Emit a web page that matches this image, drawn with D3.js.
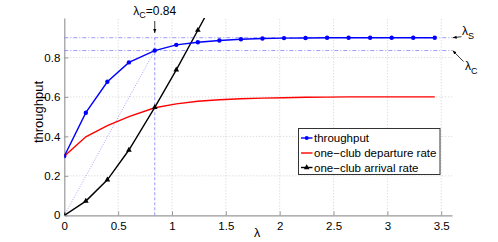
<!DOCTYPE html>
<html><head><meta charset="utf-8">
<script src="https://cdn.jsdelivr.net/npm/d3@7"></script>
<style>
body{margin:0;background:#fff;}
svg{display:block;font-family:"Liberation Sans",Arial,sans-serif;}
</style></head>
<body><svg id="c" width="498" height="242"></svg>
<script>
const lambdaVals = [0,0.2,0.4,0.6,0.84,1.04,1.24,1.44,1.64,1.84,2.04,2.24,2.44,2.64,2.84,3.04,3.24,3.44];
const throughput = [0.3,0.52,0.677,0.775,0.835,0.864,0.877,0.886,0.892,0.896,0.898,0.899,0.9,0.9,0.9,0.9,0.9,0.9];
const departure = [0.3,0.398,0.455,0.5,0.545,0.565,0.578,0.586,0.591,0.594,0.596,0.598,0.599,0.6,0.6,0.6,0.6,0.6];
const arrivalX = [0,0.2,0.4,0.6,0.84,1.04,1.24,1.44];
const arrival = [0,0.072,0.18,0.331,0.547,0.737,0.938,1.14];
const xTicks = [0,0.5,1,1.5,2,2.5,3,3.5];
const yTicks = [0,0.2,0.4,0.6,0.8];
const lambdaC = 0.84, thrC = 0.835, lambdaS = 0.9;
const seriesNames = ["throughput","one\u2212club departure rate","one\u2212club arrival rate"];
const seriesColors = ["#0000ff","#ff0000","#000000"];

const svg = d3.select("#c");
const L=64.3,R=452,T=18,B=215.3;
const x = d3.scaleLinear().domain([0,3.6]).range([L,R]);
const y = d3.scaleLinear().domain([0,1]).range([B,T]);

const defs = svg.append("defs");
defs.append("clipPath").attr("id","clip")
  .append("rect").attr("x",L).attr("y",T).attr("width",R-L).attr("height",B-T);
defs.append("marker").attr("id","ah").attr("viewBox","0 0 10 10").attr("refX",10).attr("refY",5)
  .attr("markerWidth",5).attr("markerHeight",5).attr("orient","auto-start-reverse")
  .append("path").attr("d","M0,1 L10,5 L0,9 z").attr("fill","#000");

// grid
const grid = svg.append("g").attr("stroke","#d0d0d0").attr("stroke-dasharray","1,2").attr("stroke-width",1);
xTicks.filter(d=>d>0).forEach(d=>grid.append("line").attr("x1",x(d)).attr("x2",x(d)).attr("y1",y(0)).attr("y2",y(1)));
yTicks.filter(d=>d>0).forEach(d=>grid.append("line").attr("x1",x(0)).attr("x2",x(3.6)).attr("y1",y(d)).attr("y2",y(d)));

// axes
const xa = svg.append("g").attr("transform",`translate(0,${B})`)
  .call(d3.axisBottom(x).tickValues(xTicks).tickFormat(d3.format("~g")).tickSizeInner(-4).tickSizeOuter(0).tickPadding(7));
const ya = svg.append("g").attr("transform",`translate(${L},0)`)
  .call(d3.axisLeft(y).tickValues(yTicks).tickFormat(d3.format("~g")).tickSizeInner(-4).tickSizeOuter(0).tickPadding(4));
[xa,ya].forEach(a=>{
  a.select(".domain").attr("stroke","#999").attr("stroke-width",1.2);
  a.selectAll(".tick line").attr("stroke","#999");
  a.selectAll("text").attr("font-size",11.5).attr("fill","#000").attr("font-family","Liberation Sans, Arial, sans-serif");
});

// reference lines
const ref = svg.append("g").attr("stroke","#7f7fff").attr("stroke-width",0.8).attr("fill","none");
ref.append("line").attr("x1",x(0)).attr("x2",x(3.6)).attr("y1",y(lambdaS)).attr("y2",y(lambdaS)).attr("stroke-dasharray","4,2,1,2");
ref.append("line").attr("x1",x(0)).attr("x2",x(3.6)).attr("y1",y(thrC)).attr("y2",y(thrC)).attr("stroke-dasharray","4,2,1,2");
ref.append("line").attr("x1",x(lambdaC)).attr("x2",x(lambdaC)).attr("y1",y(0)).attr("y2",y(lambdaS)).attr("stroke-dasharray","3,2");
ref.append("line").attr("x1",x(0)).attr("x2",x(lambdaC)).attr("y1",y(0)).attr("y2",y(thrC)).attr("stroke-dasharray","1,1.5").attr("stroke-width",0.7);

// series
const g = svg.append("g").attr("clip-path","url(#clip)");
const line = d3.line().x(d=>x(d[0])).y(d=>y(d[1]));
const thrData = lambdaVals.map((l,i)=>[l,throughput[i]]);
const depData = lambdaVals.map((l,i)=>[l,departure[i]]);
const arrData = arrivalX.map((l,i)=>[l,arrival[i]]);
g.append("path").attr("d",line(depData)).attr("stroke",seriesColors[1]).attr("stroke-width",1.4).attr("fill","none");
g.append("path").attr("d",line(arrData)).attr("stroke",seriesColors[2]).attr("stroke-width",1.4).attr("fill","none");
g.append("path").attr("d",line(thrData)).attr("stroke",seriesColors[0]).attr("stroke-width",1.4).attr("fill","none");
g.selectAll(".dot").data(thrData).enter().append("circle").attr("cx",d=>x(d[0])).attr("cy",d=>y(d[1])).attr("r",2.2).attr("fill",seriesColors[0]);
const tri = d3.symbol().type(d3.symbolTriangle).size(14);
g.selectAll(".tri").data(arrData).enter().append("path").attr("d",tri)
  .attr("transform",d=>`translate(${x(d[0])},${y(d[1])})`).attr("fill","#000");

// annotations
const ann = svg.append("g").attr("font-size",12).attr("fill","#000");
const t1 = ann.append("text").attr("x",x(lambdaC)).attr("y",15).attr("text-anchor","middle");
t1.append("tspan").text("\u03bb");
t1.append("tspan").attr("font-size",9).attr("dy",3).text("C");
t1.append("tspan").attr("dy",-3).text("=0.84");
svg.append("line").attr("x1",x(lambdaC)).attr("x2",x(lambdaC)).attr("y1",21).attr("y2",33)
  .attr("stroke","#000").attr("stroke-width",0.8).attr("marker-end","url(#ah)");
const t2 = ann.append("text").attr("x",462).attr("y",35);
t2.append("tspan").text("\u03bb");
t2.append("tspan").attr("font-size",9).attr("dy",4).text("S");
svg.append("line").attr("x1",461.5).attr("y1",36.7).attr("x2",452.7).attr("y2",y(lambdaS))
  .attr("stroke","#000").attr("stroke-width",0.8).attr("marker-end","url(#ah)");
const t3 = ann.append("text").attr("x",465).attr("y",70);
t3.append("tspan").text("\u03bb");
t3.append("tspan").attr("font-size",9).attr("dy",4).text("C");
svg.append("line").attr("x1",463.5).attr("y1",61.5).attr("x2",452.7).attr("y2",y(thrC))
  .attr("stroke","#000").attr("stroke-width",0.8).attr("marker-end","url(#ah)");

// axis labels
svg.append("text").attr("x",257).attr("y",237).attr("text-anchor","middle").attr("font-size",12.5).text("\u03bb");
svg.append("text").attr("transform","translate(43,112) rotate(-90)").attr("text-anchor","middle").attr("font-size",13).text("throughput");

// legend
const lg = svg.append("g");
lg.append("rect").attr("x",298.5).attr("y",128.5).attr("width",141.5).attr("height",46).attr("fill","#fff").attr("stroke","#333").attr("stroke-width",1);
const rows=[138,153,167.5];
seriesNames.forEach((n,i)=>{
  lg.append("line").attr("x1",301).attr("x2",312.5).attr("y1",rows[i]).attr("y2",rows[i]).attr("stroke",seriesColors[i]).attr("stroke-width",1.4);
  if(i===0) lg.append("circle").attr("cx",306.7).attr("cy",rows[i]).attr("r",2).attr("fill",seriesColors[0]);
  if(i===2) lg.append("path").attr("d",tri).attr("transform",`translate(306.7,${rows[i]})`).attr("fill","#000");
  lg.append("text").attr("x",314).attr("y",rows[i]+4).attr("font-size",11.5).text(n);
});
</script></body></html>
